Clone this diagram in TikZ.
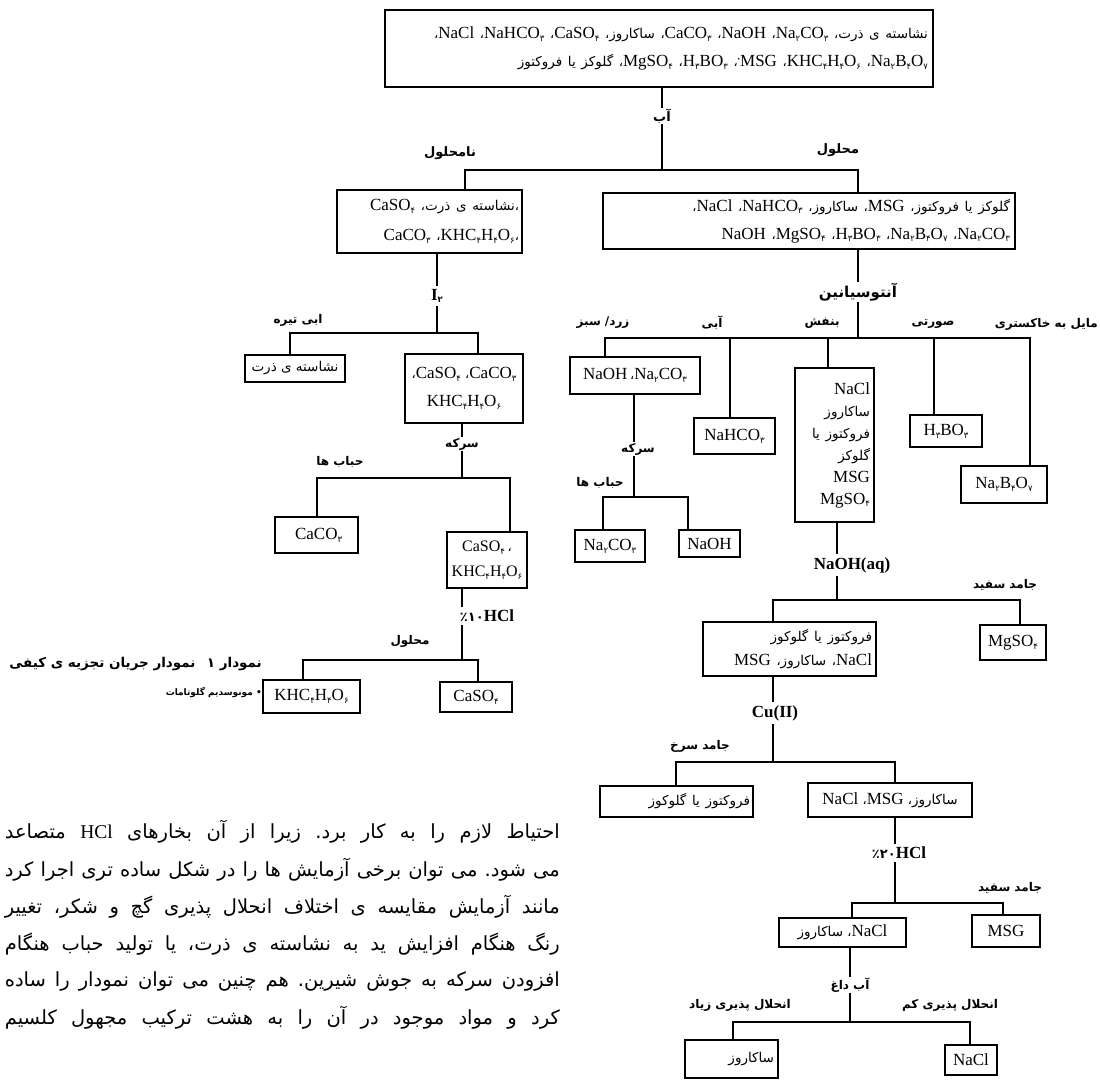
\documentclass[tikz,border=0pt]{standalone}
\usepackage{fontspec}
\setmainfont{Liberation Serif}
\newfontfamily\fafont[Script=Arabic]{DejaVu Sans}
\TeXXeTstate=1
\frenchspacing
\usetikzlibrary{positioning}
% persian words inside boxes, labels, subscripts
\newcommand\fa[1]{{\fafont\fontsize{13.5}{16}\selectfont\beginR #1\endR}}
\newcommand\fr[1]{\beginR #1\endR}
\newcommand\sbs[1]{\raisebox{-0.35ex}{\fafont\fontsize{8.5}{8}\selectfont #1}}
\newcommand\cma{{\fafont\fontsize{13}{16}\selectfont ،}}
% formulas
\newcommand\nahco{NaHCO\sbs{۳}}
\newcommand\caso{CaSO\sbs{۴}}
\newcommand\caco{CaCO\sbs{۳}}
\newcommand\naco{Na\sbs{۲}CO\sbs{۳}}
\newcommand\mgso{MgSO\sbs{۴}}
\newcommand\hbo{H\sbs{۳}BO\sbs{۳}}
\newcommand\khc{KHC\sbs{۴}H\sbs{۴}O\sbs{۶}}
\newcommand\nabo{Na\sbs{۲}B\sbs{۴}O\sbs{۷}}
\newcommand\msgdot{\raisebox{0.6ex}{\scriptsize\textbullet}MSG}
\tikzset{
  box/.style={draw, line width=1.6pt, inner sep=0pt, align=center, font=\fontsize{17}{28}\selectfont},
  wire/.style={line width=1.5pt},
  lbl/.style={inner sep=1pt, font=\fafont\bfseries\fontsize{12}{14}\selectfont},
  reag/.style={inner sep=3pt, font=\bfseries\fontsize{17}{20}\selectfont},
  para/.style={anchor=east, inner sep=0pt, font=\fafont\fontsize{19.5}{22}\selectfont},
}
\begin{document}
\begin{tikzpicture}[x=1pt,y=-1pt]
\useasboundingbox (0,0) rectangle (1100,1082);

% ---- boxes
\node[box, minimum width=548pt, minimum height=77pt, text width=538pt, align=right] (mix) at (659,48.5)
  {\cma NaCl\ \cma\nahco\ \cma\caso\ \cma\fa{ساکاروز}\ \cma\caco\ \cma NaOH\ \cma\naco\ \cma\fa{نشاسته ی ذرت}\\
   \fa{گلوکز یا فروکتوز}\ \cma\mgso\ \cma\hbo\ \cma\msgdot\ \cma\khc\ \cma\nabo};
\node[box, minimum width=185pt, minimum height=63pt, text width=179pt, align=right, font=\fontsize{17}{30}\selectfont] (insol) at (429.5,221.5)
  {\caso\ \cma\fa{نشاسته ی ذرت}\cma\\ \caco\ \cma\khc\cma};
\node[box, minimum width=412pt, minimum height=56pt, text width=402pt, align=right] (sol) at (809,221)
  {\cma NaCl\ \cma\nahco\ \cma\fa{ساکاروز}\ \cma MSG\ \cma\fa{گلوکز یا فروکتوز}\\
   NaOH\ \cma\mgso\ \cma\hbo\ \cma\nabo\ \cma\naco};

\node[box, minimum width=100pt, minimum height=27pt] (starch) at (295,368.5) {\fa{نشاسته ی ذرت}};
\node[box, minimum width=118pt, minimum height=69pt] (cb) at (464,388.5) {\cma\caso\ \cma\caco\\ \khc};
\node[box, minimum width=83pt, minimum height=36pt] (cc) at (316.5,535) {\ \caco};
\node[box, minimum width=80pt, minimum height=56pt, font=\fontsize{16}{25}\selectfont] (ck) at (487,560) {\caso\,\cma\\ \khc};
\node[box, minimum width=97pt, minimum height=33pt] (kh) at (311.5,696.5) {\khc};
\node[box, minimum width=72pt, minimum height=30pt] (cs) at (476,697) {\caso};

\node[box, minimum width=130pt, minimum height=37pt] (nb) at (635,375.5) {NaOH\,\cma\naco};
\node[box, minimum width=81pt, minimum height=36pt] (hc) at (734.5,436) {\nahco};
\node[box, minimum width=79pt, minimum height=154pt, text width=71pt, align=right, font=\fontsize{17}{22}\selectfont] (tall) at (834.5,445)
  {NaCl\\ \fa{ساکاروز}\\ \fa{فروکتوز یا}\\ \fa{گلوکز}\\ MSG\\ \mgso};
\node[box, minimum width=72pt, minimum height=32pt] (hb) at (946,431) {\hbo};
\node[box, minimum width=86pt, minimum height=37pt] (nbo) at (1004,484.5) {\nabo};
\node[box, minimum width=70pt, minimum height=32pt] (nc) at (610,546) {\naco};
\node[box, minimum width=61pt, minimum height=27pt] (no) at (709.5,543.5) {NaOH};

\node[box, minimum width=173pt, minimum height=54pt, text width=165pt, align=right, font=\fontsize{17}{24}\selectfont] (fb) at (789.5,649)
  {\fa{فروکتوز یا گلوکوز}\\ MSG\ \cma\fa{ساکاروز}\ \cma NaCl};
\node[box, minimum width=66pt, minimum height=35pt] (mg) at (1013,642.5) {\mgso};
\node[box, minimum width=153pt, minimum height=31pt, text width=147pt, align=right] (fg) at (676.5,801.5) {\fa{فروکتوز یا گلوکوز}};
\node[box, minimum width=164pt, minimum height=34pt] (nm) at (890,800) {NaCl\ \cma MSG\ \cma\fa{ساکاروز}};
\node[box, minimum width=127pt, minimum height=29pt] (ns) at (842.5,932.5) {\fa{ساکاروز}\ \cma NaCl};
\node[box, minimum width=68pt, minimum height=32pt] (ms) at (1006,931) {MSG};
\node[box, minimum width=93pt, minimum height=38pt, text width=85pt, align=right] (sk) at (731.5,1059) {\fa{ساکاروز}};
\node[box, minimum width=52pt, minimum height=30pt] (nl) at (971,1060) {NaCl};

% ---- reagents and labels
\node[lbl, font=\fafont\bfseries\fontsize{13}{15}\selectfont] (ab) at (662,116) {\fr{آب}};
\node[lbl, font=\fafont\bfseries\fontsize{13}{15}\selectfont] (nmh) at (450,153) {\fr{نامحلول}};
\node[lbl, font=\fafont\bfseries\fontsize{13}{15}\selectfont] (mh) at (838,150) {\fr{محلول}};
\node[reag] (i2) at (437,296) {I\sbs{۲}};
\node[lbl] (dk) at (298,320) {\fr{ابی تیره}};
\node[lbl] (vin1) at (462,444) {\fr{سرکه}};
\node[lbl] (bub1) at (340,462) {\fr{حباب ها}};
\node[reag] (hcl1) at (487,616) {{\fafont\fontsize{13}{16}\selectfont ٪۱۰}HCl};
\node[lbl] (sol2) at (410,641) {\fr{محلول}};
\node[lbl, font=\fafont\bfseries\fontsize{15}{17}\selectfont] (anth) at (858,292) {\fr{آنتوسیانین}};
\node[lbl] (c1) at (603,323) {\fr{زرد/ سبز}};
\node[lbl] (c2) at (712,323) {\fr{آبی}};
\node[lbl] (c3) at (822,323) {\fr{بنفش}};
\node[lbl] (c4) at (933,324) {\fr{صورتی}};
\node[lbl, anchor=east] (c5) at (1099,324) {\fr{مایل به خاکستری}};
\node[lbl] (vin2) at (638,449) {\fr{سرکه}};
\node[lbl] (bub2) at (600,483) {\fr{حباب ها}};
\node[reag] (naoh) at (852,565) {NaOH(aq)};
\node[lbl] (ws1) at (1005,585) {\fr{جامد سفید}};
\node[reag] (cu) at (775,713) {Cu(II)};
\node[lbl] (rs) at (700,746) {\fr{جامد سرخ}};
\node[reag] (hcl2) at (899,853) {{\fafont\fontsize{13}{16}\selectfont ٪۲۰}HCl};
\node[lbl] (ws2) at (1010,888) {\fr{جامد سفید}};
\node[lbl] (hw) at (850,985) {\fr{آب داغ}};
\node[lbl] (hi) at (740,1005) {\fr{انحلال پذیری زیاد}};
\node[lbl] (lo) at (950,1005) {\fr{انحلال پذیری کم}};

% ---- junctions
\coordinate (j1) at (662,170); \coordinate (j1l) at (465,170); \coordinate (j1r) at (858,170);
\coordinate (j2) at (437,333); \coordinate (j2l) at (290,333); \coordinate (j2r) at (478,333);
\coordinate (j3) at (462,478); \coordinate (j3l) at (317,478); \coordinate (j3r) at (510,478);
\coordinate (j4) at (462,660); \coordinate (j4l) at (303,660); \coordinate (j4r) at (478,660);
\coordinate (j6) at (858,338); \coordinate (j6a) at (605,338); \coordinate (j6b) at (730,338);
\coordinate (j6c) at (828,338); \coordinate (j6d) at (934,338); \coordinate (j6e) at (1030,338);
\coordinate (j7) at (634,497); \coordinate (j7l) at (603,497); \coordinate (j7r) at (688,497);
\coordinate (j5) at (837,600); \coordinate (j5l) at (773,600); \coordinate (j5r) at (1020,600);
\coordinate (j8) at (773,762); \coordinate (j8l) at (676,762); \coordinate (j8r) at (895,762);
\coordinate (j9) at (895,903); \coordinate (j9l) at (852,903); \coordinate (j9r) at (1003,903);
\coordinate (j10) at (850,1022); \coordinate (j10l) at (733,1022); \coordinate (j10r) at (970,1022);

% ---- connectors
\draw[wire] (mix.south -| ab) -- (ab) -- (j1);
\draw[wire] (j1l |- insol.north) -- (j1l) -- (j1r) -- (j1r |- sol.north);
\draw[wire] (insol.south -| i2) -- (i2) -- (j2);
\draw[wire] (j2l |- starch.north) -- (j2l) -- (j2r) -- (j2r |- cb.north);
\draw[wire] (cb.south -| vin1) -- (vin1) -- (j3);
\draw[wire] (j3l |- cc.north) -- (j3l) -- (j3r) -- (j3r |- ck.north);
\draw[wire] (ck.south -| j4) -- (j4 |- hcl1.north);
\draw[wire] (j4 |- hcl1.south) -- (j4);
\draw[wire] (j4l |- kh.north) -- (j4l) -- (j4r) -- (j4r |- cs.north);
\draw[wire] (sol.south -| anth) -- (anth) -- (j6);
\draw[wire] (j6a |- nb.north) -- (j6a) -- (j6e) -- (j6e |- nbo.north);
\draw[wire] (j6b) -- (j6b |- hc.north);
\draw[wire] (j6c) -- (j6c |- tall.north);
\draw[wire] (j6d) -- (j6d |- hb.north);
\draw[wire] (nb.south -| j7) -- (j7 |- vin2.north);
\draw[wire] (j7 |- vin2.south) -- (j7);
\draw[wire] (j7l |- nc.north) -- (j7l) -- (j7r) -- (j7r |- no.north);
\draw[wire] (tall.south -| j5) -- (j5 |- naoh.north);
\draw[wire] (j5 |- naoh.south) -- (j5);
\draw[wire] (j5l |- fb.north) -- (j5l) -- (j5r) -- (j5r |- mg.north);
\draw[wire] (fb.south -| j8) -- (j8 |- cu.north);
\draw[wire] (j8 |- cu.south) -- (j8);
\draw[wire] (j8l |- fg.north) -- (j8l) -- (j8r) -- (j8r |- nm.north);
\draw[wire] (nm.south -| j9) -- (j9 |- hcl2.north);
\draw[wire] (j9 |- hcl2.south) -- (j9);
\draw[wire] (j9l |- ns.north) -- (j9l) -- (j9r) -- (j9r |- ms.north);
\draw[wire] (ns.south -| hw) -- (hw) -- (j10);
\draw[wire] (j10l |- sk.north) -- (j10l) -- (j10r) -- (j10r |- nl.north);

% ---- caption
\node[anchor=east, inner sep=0pt, font=\fafont\bfseries\fontsize{13.5}{16}\selectfont] (cap) at (262,664)
  {\fr{نمودار ۱\enspace\ نمودار جریان تجزیه ی کیفی}};
\node[anchor=east, inner sep=0pt, font=\fafont\bfseries\fontsize{9}{11}\selectfont] (capnote) at (262,692)
  {\fr{• مونوسدیم گلوتامات}};

% ---- text of the page
\node[para] (ta) at (560,832) {\hbox to 555pt{\fr{احتیاط لازم را به کار برد. زیرا از آن بخارهای \beginL{\rmfamily HCl}\endL{} متصاعد}}};
\node[para] (tb) at (560,870) {\hbox to 555pt{\fr{می شود. می توان برخی آزمایش ها را در شکل ساده تری اجرا کرد}}};
\node[para] (tc) at (560,907) {\hbox to 555pt{\fr{مانند آزمایش مقایسه ی اختلاف انحلال پذیری گچ و شکر، تغییر}}};
\node[para] (td) at (560,944) {\hbox to 555pt{\fr{رنگ هنگام افزایش ید به نشاسته ی ذرت، یا تولید حباب هنگام}}};
\node[para] (te) at (560,981) {\hbox to 555pt{\fr{افزودن سرکه به جوش شیرین. هم چنین می توان نمودار را ساده}}};
\node[para] (tf) at (560,1018) {\hbox to 555pt{\fr{کرد و مواد موجود در آن را به هشت ترکیب مجهول کلسیم}}};
\end{tikzpicture}
\end{document}
